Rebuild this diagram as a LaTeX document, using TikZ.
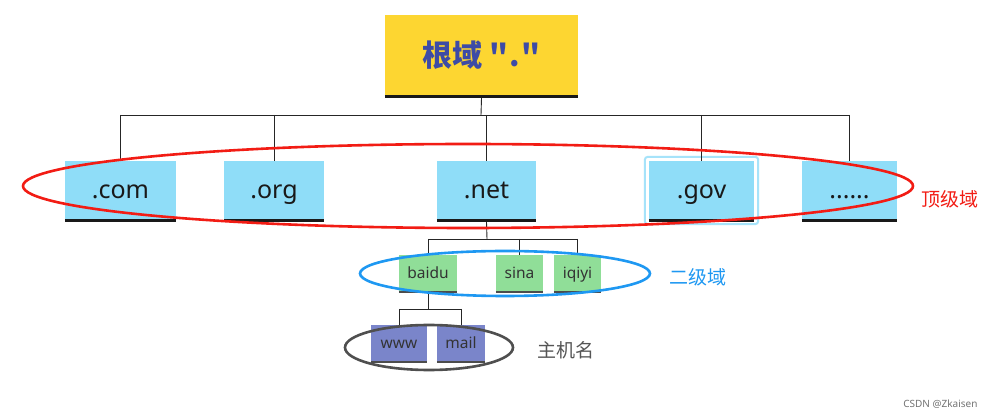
\documentclass[tikz,border=0pt]{standalone}
\usepackage{fontspec}
\setmainfont{Noto Sans}
\newfontfamily\cjk{Noto Sans CJK SC}
\usetikzlibrary{shapes.geometric,calc}
\definecolor{rootyellow}{HTML}{FDD631}
\definecolor{roottext}{HTML}{3D4BA6}
\definecolor{topblue}{HTML}{8FDDF8}
\definecolor{govline}{HTML}{A6E3FA}
\definecolor{secgreen}{HTML}{90DE98}
\definecolor{hostblue}{HTML}{7A85CA}
\definecolor{ringred}{HTML}{F21C14}
\definecolor{ringblue}{HTML}{1E98F2}
\definecolor{ringgray}{HTML}{4F4F4F}
\definecolor{labgray}{HTML}{555555}
\tikzset{
  rootbox/.style={fill=rootyellow, inner sep=0pt, minimum width=193pt, minimum height=80pt,
    text=roottext, font=\cjk\bfseries\fontsize{30}{33}\selectfont},
  topbox/.style={fill=topblue, inner sep=0pt, minimum height=58pt, text height=18pt, text depth=0pt,
    text=black!90, font=\fontsize{25}{28}\selectfont},
  secbox/.style={fill=secgreen, inner sep=0pt, minimum height=36pt, text height=12pt, text depth=0pt,
    text=black!80, font=\fontsize{15.5}{17}\selectfont},
  hostbox/.style={fill=hostblue, inner sep=0pt, minimum height=36pt, text height=10.5pt, text depth=0pt,
    text=black!80, font=\fontsize{15.5}{17}\selectfont},
  bigbar/.style={line width=3pt, black!90},
  smallbar/.style={line width=2pt, black!70},
  link/.style={line width=0.9pt, black!85},
  ring/.style={ellipse, draw, line width=2.6pt, inner sep=0pt, fill=none},
  ringlabel/.style={font=\cjk\fontsize{19}{22}\selectfont}
}
\begin{document}
\begin{tikzpicture}[x=1pt,y=-1pt]
\useasboundingbox (0,0) rectangle (994,419);
\fill[white] (0,0) rectangle (994,419);

% root
\node[rootbox] (root) at (481.5,55) {根域 "\kern1pt.\kern1pt"};
\draw[bigbar] ([yshift=-1.5pt]root.south west) -- ([yshift=-1.5pt]root.south east);

% top level
\node[topbox, minimum width=111pt] (com) at (120.5,190) {.com};
\node[topbox, minimum width=100pt] (org) at (274,190) {.org};
\node[topbox, minimum width=99pt] (net) at (486.5,190) {.net};
\node[topbox, minimum width=105pt] (gov) at (701.5,190) {.gov};
\node[topbox, minimum width=95pt] (more) at (849.5,190) {......};
\foreach \n in {com,org,net,gov,more}{
  \draw[bigbar] ([yshift=-1.5pt]\n.south west) -- ([yshift=-1.5pt]\n.south east);
}
\draw[govline, line width=2pt, rounded corners=3pt]
  ([shift={(-4,-4)}]gov.north west) rectangle ([shift={(4,5)}]gov.south east);

\coordinate (j0) at (481,115);
\draw[link] ([yshift=-3pt]root.south) -- (j0);
\draw[link] (com.north |- j0) -- (more.north |- j0);
\foreach \n in {com,org,net,gov,more}{
  \draw[link] (\n.north |- j0) -- (\n.north);
}

% second level
\node[secbox, minimum width=58pt] (baidu) at (428,273) {baidu};
\node[secbox, minimum width=47pt] (sina) at (519.5,273) {sina};
\node[secbox, minimum width=47pt] (iqiyi) at (577.5,273) {iqiyi};
\foreach \n in {baidu,sina,iqiyi}{
  \draw[smallbar] ([yshift=-1pt]\n.south west) -- ([yshift=-1pt]\n.south east);
}
\coordinate (j1) at (487,239);
\draw[link] ([yshift=-3pt]net.south) -- (j1);
\draw[link] (baidu.north |- j1) -- (iqiyi.north |- j1);
\foreach \n in {baidu,sina,iqiyi}{
  \draw[link] (\n.north |- j1) -- (\n.north);
}

% hosts
\node[hostbox, minimum width=56pt] (www) at (399,343) {www};
\node[hostbox, minimum width=48pt] (mail) at (461,343) {mail};
\foreach \n in {www,mail}{
  \draw[smallbar] ([yshift=-1pt]\n.south west) -- ([yshift=-1pt]\n.south east);
}
\coordinate (j2) at (428,309);
\draw[link] ([yshift=-2pt]baidu.south) -- (j2);
\draw[link] (www.north |- j2) -- (mail.north |- j2);
\foreach \n in {www,mail}{
  \draw[link] (\n.north |- j2) -- (\n.north);
}

% rings
\node[ring, draw=ringred, minimum width=890pt, minimum height=84pt] (topring) at (468,186) {};
\node[ring, draw=ringblue, minimum width=290pt, minimum height=45pt] (secring) at (505,273.5) {};
\node[ring, draw=ringgray, minimum width=168pt, minimum height=45pt] (hostring) at (429,347.5) {};

% labels
\node[ringlabel, text=ringred] (toplab) at (950,199) {顶级域};
\node[ringlabel, text=ringblue] (seclab) at (698,277) {二级域};
\node[ringlabel, text=labgray] (hostlab) at (566,350) {主机名};

\node[font=\fontsize{10}{12}\selectfont, text=black!55, anchor=east] (wm) at (981,404) {CSDN @Zkaisen};
\end{tikzpicture}
\end{document}
